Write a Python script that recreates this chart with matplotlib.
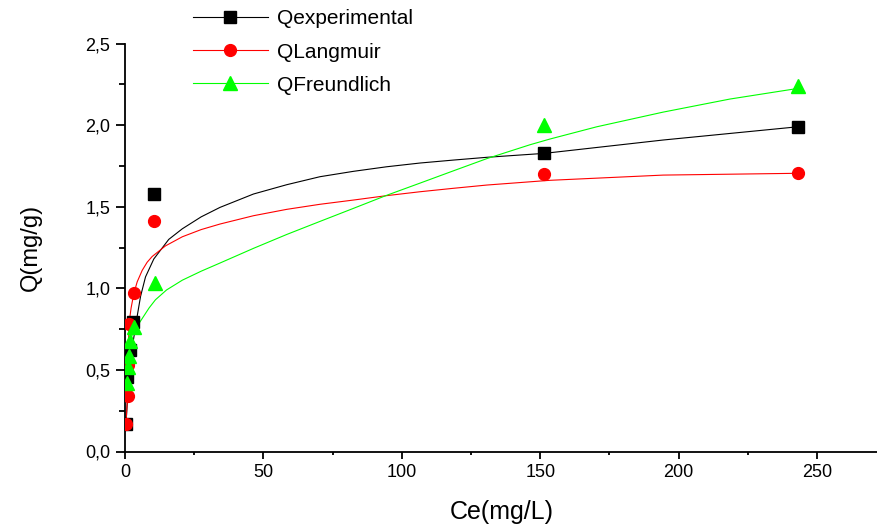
import matplotlib
matplotlib.use('Agg')
import matplotlib.pyplot as plt
from matplotlib.ticker import MultipleLocator, FuncFormatter

plt.rcParams['font.family'] = ['Liberation Sans', 'DejaVu Sans']

# measured points (Ce in mg/L, Q in mg/g)
exp_x = [0.35, 0.7, 1.9, 2.9, 10.4, 151.4, 243.0]
exp_y = [0.17, 0.455, 0.62, 0.795, 1.578, 1.827, 1.99]
lang_x = [0.35, 0.9, 1.2, 1.4, 3.1, 10.4, 151.4, 243.0]
lang_y = [0.17, 0.34, 0.53, 0.78, 0.973, 1.414, 1.699, 1.705]
freu_x = [0.7, 0.9, 1.3, 1.9, 3.1, 10.7, 151.4, 243.0]
freu_y = [0.42, 0.52, 0.585, 0.68, 0.76, 1.03, 2.0, 2.241]

# smooth curves
exp_cx = [0.35, 1.0, 2.0, 3.0, 4.4, 5.6, 7.4, 10.4, 15.8, 20.7, 27.5, 34.3, 46.4,
          58.4, 70.4, 82.5, 94.5, 106.6, 118.6, 130.7, 142.7, 151.4, 194.4, 243.0]
exp_cy = [0.17, 0.35, 0.52, 0.68, 0.83, 0.95, 1.07, 1.18, 1.30, 1.365, 1.438, 1.496,
          1.578, 1.635, 1.684, 1.717, 1.745, 1.768, 1.786, 1.803, 1.817, 1.827,
          1.909, 1.99]
lang_cx = [0.35, 0.9, 1.2, 1.4, 2.2, 3.2, 4.4, 6.2, 8.0, 9.8, 14.6, 20.7, 27.5,
           34.3, 46.4, 58.4, 70.4, 82.5, 94.5, 106.6, 118.6, 130.7, 153.5, 194.4,
           243.0]
lang_cy = [0.17, 0.34, 0.53, 0.78, 0.88, 0.97, 1.04, 1.11, 1.16, 1.195, 1.26,
           1.316, 1.36, 1.394, 1.445, 1.484, 1.515, 1.541, 1.568, 1.592, 1.613,
           1.633, 1.662, 1.694, 1.705]
freu_cx = [0.7, 0.9, 1.3, 1.9, 3.1, 3.7, 8.7, 11.0, 15.0, 20.7, 27.5, 34.3, 46.4,
           58.4, 70.4, 82.5, 94.5, 106.6, 118.6, 130.7, 146.3, 153.5, 170.4, 194.4,
           218.5, 243.0]
freu_cy = [0.42, 0.52, 0.585, 0.68, 0.74, 0.75, 0.88, 0.93, 0.99, 1.05, 1.105,
           1.155, 1.245, 1.33, 1.41, 1.49, 1.57, 1.645, 1.72, 1.795, 1.88, 1.915,
           1.99, 2.08, 2.16, 2.225]

GREEN = '#00ff00'
RED = '#ff0000'

fig = plt.figure(figsize=(8.78, 5.25), dpi=100)
ax = fig.add_axes([0.1424, 0.14, 0.8576, 0.777])

ax.plot(exp_cx, exp_cy, color='black', lw=0.8)
ax.plot(lang_cx, lang_cy, color=RED, lw=0.8)
ax.plot(freu_cx, freu_cy, color=GREEN, lw=0.8)

ax.plot(exp_x, exp_y, ls='none', marker='s', ms=8, color='black', zorder=3)
ax.plot(lang_x, lang_y, ls='none', marker='o', ms=8.5, color=RED, zorder=4)
ax.plot(freu_x, freu_y, ls='none', marker='^', ms=9.5, color=GREEN, zorder=5)

# legend handles: line + marker
h1, = ax.plot([], [], color='black', lw=0.8, marker='s', ms=8)
h2, = ax.plot([], [], color=RED, lw=0.8, marker='o', ms=8.5)
h3, = ax.plot([], [], color=GREEN, lw=0.8, marker='^', ms=9.5)
fig.legend([h1, h2, h3], ['Qexperimental', 'QLangmuir', 'QFreundlich'],
           loc='upper left', bbox_to_anchor=(0.2198, 0.982), frameon=False,
           fontsize=15, handlelength=3.6, handletextpad=0.42, labelspacing=0.68,
           borderpad=0, borderaxespad=0)

ax.set_xlim(0, 272)
ax.set_ylim(0, 2.5)
ax.xaxis.set_major_locator(MultipleLocator(50))
ax.xaxis.set_minor_locator(MultipleLocator(25))
ax.yaxis.set_major_locator(MultipleLocator(0.5))
ax.yaxis.set_minor_locator(MultipleLocator(0.25))
ax.yaxis.set_major_formatter(FuncFormatter(lambda v, p: f"{v:.1f}".replace('.', ',')))

for s in ['top', 'right']:
    ax.spines[s].set_visible(False)
for s in ['left', 'bottom']:
    ax.spines[s].set_linewidth(1.3)
ax.tick_params(which='major', direction='out', width=1.3, labelsize=13, pad=4)
ax.tick_params(axis='x', which='major', length=5)
ax.tick_params(axis='y', which='major', length=6.5)
ax.tick_params(axis='x', which='minor', direction='out', width=1.3, length=2.5)
ax.tick_params(axis='y', which='minor', direction='out', width=1.3, length=4)

ax.set_xlabel('Ce(mg/L)', fontsize=18, labelpad=14)
ax.set_ylabel('Q(mg/g)', fontsize=17, labelpad=31)

fig.savefig('out.png', dpi=100, facecolor='white')
